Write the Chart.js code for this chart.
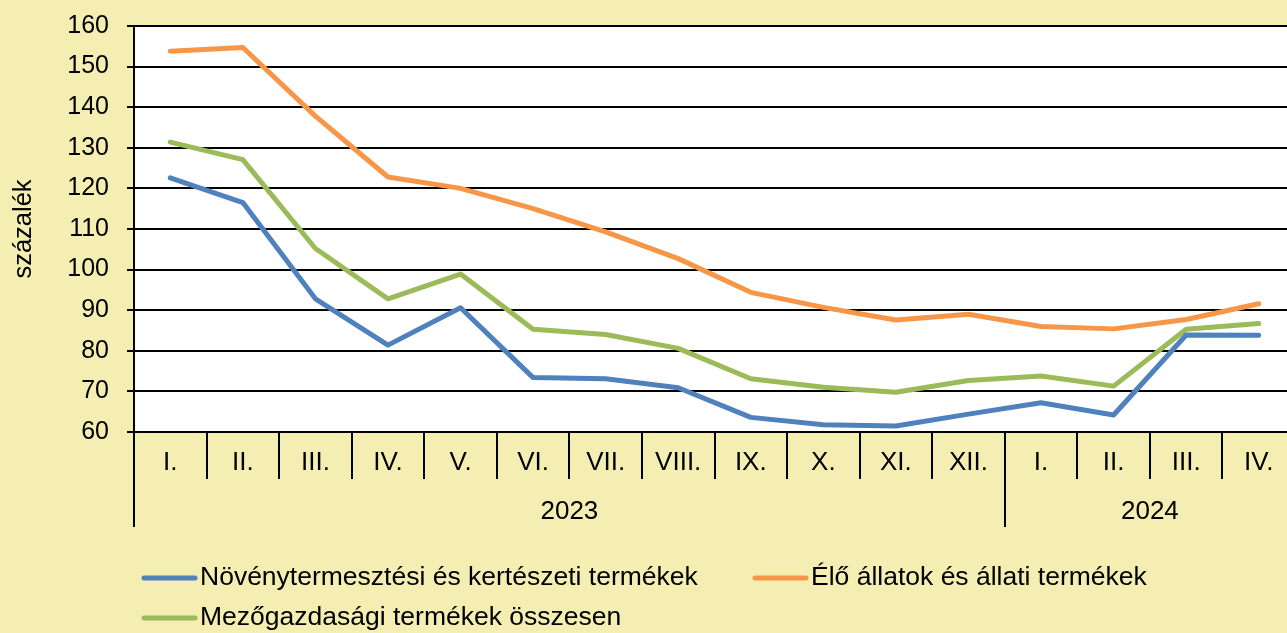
<!DOCTYPE html>
<html><head><meta charset="utf-8">
<script src="https://cdn.jsdelivr.net/npm/chart.js@4.4.1/dist/chart.umd.min.js"></script>
<style>
html,body{margin:0;padding:0;overflow:hidden;background:#F4EEB3;width:1287px;height:633px;}
#wrap{width:1287px;height:633px;overflow:hidden;position:relative;}
canvas{display:block;}
</style></head><body>
<div id="wrap"><canvas id="c" width="1295" height="633" style="width:1295px;height:633px"></canvas></div>
<script>
const months = ['I.','II.','III.','IV.','V.','VI.','VII.','VIII.','IX.','X.','XI.','XII.','I.','II.','III.','IV.'];
const years = ['2023','2024'];
const yearSpans = [12,4];
const plantProducts = [122.6,116.5,92.8,81.4,90.6,73.4,73.1,70.9,63.6,61.8,61.5,64.4,67.2,64.2,83.9,83.8];
const animalProducts = [153.8,154.7,137.8,122.8,120.0,115.0,109.3,102.7,94.4,90.7,87.6,89.0,86.0,85.4,87.7,91.6];
const totalProducts = [131.4,127.1,105.2,92.8,98.9,85.3,84.0,80.6,73.1,71.0,69.8,72.7,73.8,71.3,85.3,86.7];
const seriesNames = ['Növénytermesztési és kertészeti termékek','Élő állatok és állati termékek','Mezőgazdasági termékek összesen'];
const colors = ['#4F81BD','#F79646','#9BBB59'];
const FONT = '"Liberation Sans", Arial, sans-serif';

const bgPlugin = {
  id:'bg',
  beforeDraw(chart){
    const {ctx, chartArea:a} = chart;
    ctx.save();
    ctx.fillStyle = '#F4EEB3';
    ctx.fillRect(0,0,chart.width,chart.height);
    ctx.fillStyle = '#FFFFFF';
    ctx.fillRect(a.left,a.top,a.right-a.left,a.bottom-a.top);
    ctx.restore();
  },
  afterDraw(chart){
    const {ctx} = chart;
    const xs = chart.scales.x;
    const half = (xs.getPixelForValue(1)-xs.getPixelForValue(0))/2;
    const bottom = chart.chartArea.bottom;
    ctx.save();
    ctx.strokeStyle = '#000';
    ctx.lineWidth = 2;
    ctx.fillStyle = '#000';
    ctx.font = '26px ' + FONT;
    ctx.textAlign = 'center';
    ctx.textBaseline = 'middle';
    let idx = 0;
    for (let i=0;i<years.length;i++){
      const x0 = xs.getPixelForValue(idx) - half;
      const x1 = xs.getPixelForValue(idx+yearSpans[i]-1) + half;
      ctx.beginPath(); ctx.moveTo(Math.round(x0), bottom); ctx.lineTo(Math.round(x0), bottom+95); ctx.stroke();
      ctx.fillText(years[i], (x0+x1)/2, bottom+80);
      idx += yearSpans[i];
    }
    // legend
    const items = [[142,578],[753,578],[142,618]];
    ctx.textAlign = 'left';
    ctx.font = '26.5px ' + FONT;
    chart.data.datasets.forEach((ds,i)=>{
      const [lx,ly] = items[i];
      ctx.strokeStyle = ds.borderColor;
      ctx.lineWidth = 5;
      ctx.lineCap = 'round';
      ctx.beginPath(); ctx.moveTo(lx+2,ly); ctx.lineTo(lx+53,ly); ctx.stroke();
      ctx.fillStyle = '#000';
      ctx.fillText(ds.label, lx+58, ly);
    });
    ctx.restore();
  }
};

new Chart(document.getElementById('c'), {
  type:'line',
  data:{
    labels: months,
    datasets:[
      {label:seriesNames[0], data:plantProducts, borderColor:colors[0]},
      {label:seriesNames[1], data:animalProducts, borderColor:colors[1]},
      {label:seriesNames[2], data:totalProducts, borderColor:colors[2]}
    ].map(d=>Object.assign(d,{borderWidth:5,pointRadius:0,tension:0,fill:false,borderJoinStyle:'round',borderCapStyle:'round'}))
  },
  options:{
    responsive:false,
    animation:false,
    devicePixelRatio:1,
    layout:{padding:{top:26,left:0,right:0,bottom:0}},
    plugins:{legend:{display:false},tooltip:{enabled:false}},
    scales:{
      x:{
        offset:true,
        grid:{offset:true,drawOnChartArea:false,drawTicks:true,tickLength:47,color:'#000',lineWidth:2},
        border:{display:true,color:'#000',width:2},
        ticks:{color:'#000',font:{family:FONT,size:26},padding:-32,maxRotation:0,autoSkip:false},
        afterFit(s){ s.height = 201; s.paddingLeft = 0; s.paddingRight = 0; }
      },
      y:{
        min:60,max:160,
        grid:{color:'#000',lineWidth:2,tickLength:7,drawTicks:true},
        border:{display:true,color:'#000',width:2},
        ticks:{stepSize:10,color:'#000',font:{family:FONT,size:25},padding:18},
        title:{display:true,text:'százalék',color:'#000',font:{family:FONT,size:25.5},padding:{top:9,bottom:0}},
        afterFit(s){ s.width = 134; s.paddingTop = 0; s.paddingBottom = 0; }
      }
    }
  },
  plugins:[bgPlugin]
});
</script>
</body></html>
